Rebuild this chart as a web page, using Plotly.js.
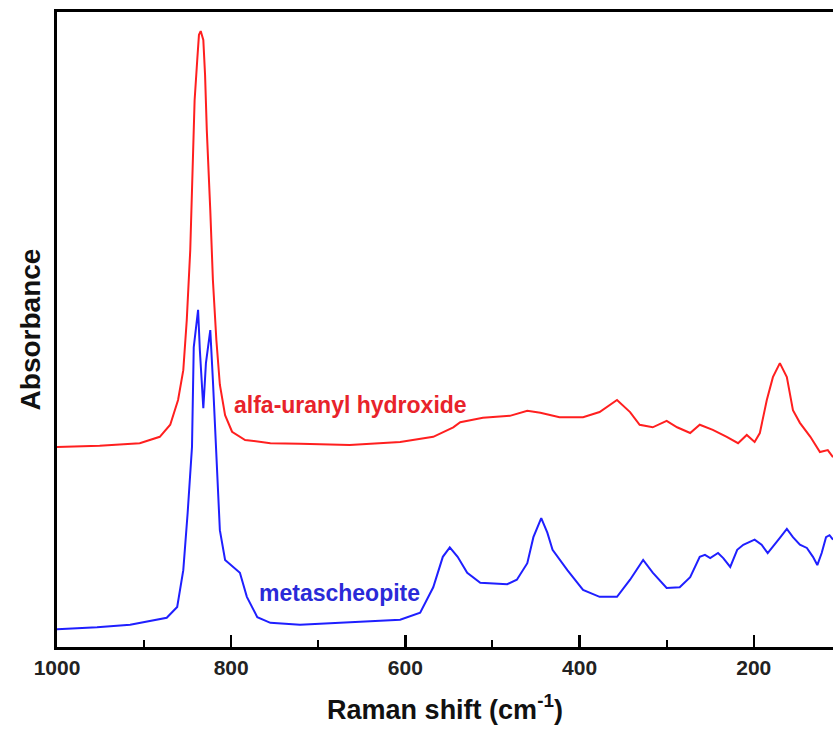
<!DOCTYPE html>
<html>
<head>
<meta charset="utf-8">
<script src="https://cdn.plot.ly/plotly-3.0.1.min.js"></script>
<style>html,body{margin:0;padding:0;background:#fff;}#chart{width:833px;height:730px;}</style>
</head>
<body>
<div id="chart"></div>
<script>
// alfa-uranyl hydroxide (red)
const redShift = [1000,951,905,882,870,861,855,851,847,844,842,839,837,835,832,830,828,824,821,817,813,807,799,784,755,721,664,606,568,545,537,511,480,460,445,423,396,377,357,342,331,316,300,288,273,262,247,231,218,208,199,193,185,178,170,162,155,147,135,124,115,109];
const redAbs   = [31.5,31.7,32.1,33.1,35.0,38.9,43.6,51.5,62.5,75.1,86.1,92.4,96.4,97.0,95.6,90.1,81.4,68.8,57.8,48.3,41.3,36.5,33.9,32.6,32.1,32.0,31.8,32.3,33.1,34.6,35.4,36.1,36.4,37.2,36.9,36.2,36.2,37.0,38.9,37.0,35.0,34.6,35.6,34.6,33.7,35.0,34.2,33.1,32.1,33.4,32.3,33.7,38.9,42.5,44.7,42.5,37.3,35.3,33.1,30.7,31.0,29.9];
// metascheopite (blue)
const blueShift = [1000,954,916,901,874,862,855,850,845,843,838,836,832,829,824,821,816,813,807,798,790,782,770,755,721,606,583,568,557,549,540,529,514,483,472,460,453,444,437,431,414,396,377,357,342,327,316,300,285,273,262,256,250,241,235,227,219,212,199,191,184,170,162,155,147,139,132,127,122,117,113,109];
const blueAbs   = [2.8,3.1,3.5,3.9,4.6,6.3,12.1,21.1,31.5,47.2,53.1,46.8,37.6,44.7,49.9,42.0,27.9,18.4,13.7,12.6,11.7,7.9,4.7,3.8,3.5,4.3,5.4,9.4,14.2,15.7,14.2,11.7,10.1,9.9,10.6,13.2,17.3,20.3,18.0,15.3,12.1,9.0,7.9,7.9,10.6,13.7,11.7,9.3,9.4,11.0,14.2,14.5,14.0,14.8,14.0,12.6,15.3,16.1,16.9,16.1,14.8,17.2,18.6,17.3,16.1,15.6,14.2,12.9,14.8,17.3,17.6,16.9];
const seriesNames = ["alfa-uranyl hydroxide", "metascheopite"];
const xTickVals = [1000, 800, 600, 400, 200];
const xTickText = ["1000", "800", "600", "400", "200"];

const FONT = "Arial, 'Liberation Sans', sans-serif";
const RED = "#ff1f1f", BLUE = "#1f1fff";

const traces = [
  {x: redShift, y: redAbs, type: "scatter", mode: "lines", name: seriesNames[0],
   line: {color: RED, width: 2}},
  {x: blueShift, y: blueAbs, type: "scatter", mode: "lines", name: seriesNames[1],
   line: {color: BLUE, width: 2}}
];

const layout = {
  width: 833, height: 730,
  margin: {l: 57, r: 0, t: 12, b: 83},
  paper_bgcolor: "#fff", plot_bgcolor: "#fff",
  showlegend: false,
  font: {family: FONT, color: "#111"},
  xaxis: {
    range: [1000, 109],
    tickvals: xTickVals, ticktext: xTickText,
    ticks: "inside", ticklen: 12, tickwidth: 2.5, tickcolor: "#000",
    minor: {ticks: "inside", ticklen: 7, tickwidth: 2, tickcolor: "#000", dtick: 100, tick0: 0, showgrid: false},
    showline: true, linewidth: 3, linecolor: "#000", mirror: true,
    showgrid: false, zeroline: false,
    tickfont: {family: FONT, size: 21, color: "#222", weight: "bold"},
    title: {text: "<b>Raman shift (cm<sup>-1</sup>)</b>", font: {family: FONT, size: 27, color: "#111"}, standoff: 22}
  },
  yaxis: {
    range: [0, 100],
    showticklabels: false, ticks: "",
    showline: true, linewidth: 3, linecolor: "#000", mirror: false,
    showgrid: false, zeroline: false,
    title: {text: "<b>Absorbance</b>", font: {family: FONT, size: 28, color: "#111"}, standoff: 6}
  },
  annotations: [
    {x: 799, y: 38.1, xref: "x", yref: "y", text: "<b>" + seriesNames[0] + "</b>", showarrow: false,
     xanchor: "left", yanchor: "middle", font: {family: FONT, size: 23, color: "#e8232a"}},
    {x: 770, y: 8.5, xref: "x", yref: "y", text: "<b>" + seriesNames[1] + "</b>", showarrow: false,
     xanchor: "left", yanchor: "middle", font: {family: FONT, size: 23, color: "#2a2ad8"}}
  ]
};

Plotly.newPlot("chart", traces, layout, {displayModeBar: false, staticPlot: true});
</script>
</body>
</html>
